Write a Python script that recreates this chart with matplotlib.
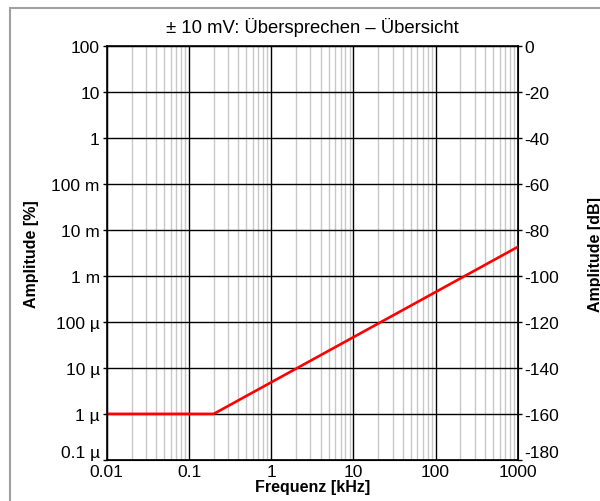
import matplotlib.pyplot as plt
from matplotlib.patches import Rectangle
import numpy as np

plt.rcParams['font.family'] = ['Liberation Sans', 'DejaVu Sans']

# crosstalk curve (frequency in kHz, amplitude in %)
freq_khz = [0.01, 0.2, 1000]
amp_pct = [1e-6, 1e-6, 4.3e-3]

x_ticks = [0.01, 0.1, 1, 10, 100, 1000]
x_labels = ['0.01', '0.1', '1', '10', '100', '1000']
y_ticks = [1e2, 1e1, 1, 1e-1, 1e-2, 1e-3, 1e-4, 1e-5, 1e-6, 1e-7]
y_labels = ['100', '10', '1', '100 m', '10 m', '1 m', '100 µ', '10 µ', '1 µ', '0.1 µ']
db_ticks = [0, -20, -40, -60, -80, -100, -120, -140, -160, -180]
db_labels = ['0', '-20', '-40', '-60', '-80', '-100', '-120', '-140', '-160', '-180']

fig = plt.figure(figsize=(6, 5.02), dpi=100)
ax = fig.add_axes([0.178, 0.082, 0.685, 0.824])

# light minor grid, black decade grid
for dec in x_ticks[:-1]:
    for m in range(2, 10):
        ax.axvline(dec * m, color='#c8c8c8', lw=1, zorder=1)
for xt in x_ticks:
    ax.axvline(xt, color='black', lw=1, zorder=2)
for yt in y_ticks:
    ax.axhline(yt, color='black', lw=1, zorder=2)

ax.plot(freq_khz, amp_pct, color='#ff0000', lw=1.9, zorder=3)

ax.set_xscale('log')
ax.set_yscale('log')
ax.set_xlim(0.01, 1000)
ax.set_ylim(1e-7, 1e2)
ax.set_xticks(x_ticks)
ax.set_xticklabels(x_labels)
ax.set_yticks(y_ticks)
ax.set_yticklabels(y_labels)
ax.minorticks_off()
ax.tick_params(axis='x', length=0, pad=3, labelsize=12.5)
ax.tick_params(axis='y', length=3, width=1, pad=2, labelsize=12.5)
for s in ax.spines.values():
    s.set_linewidth(1.2)

ax.set_xlabel('Frequenz [kHz]', fontsize=11.5, fontweight='bold', labelpad=0)
ax.set_ylabel('Amplitude [%]', fontsize=11.5, fontweight='bold')
ax.yaxis.set_label_coords(-0.166, 0.5)
ax.set_title('± 10 mV: Übersprechen – Übersicht', fontsize=13.3, pad=10)

ax2 = ax.twinx()
ax2.set_ylim(-180, 0)
ax2.set_yticks(db_ticks)
ax2.set_yticklabels(db_labels)
ax2.tick_params(axis='y', length=3, width=1, pad=2, labelsize=12.5)
fig.text(0.993, 0.493, 'Amplitude [dB]', rotation=90, ha='center', va='center',
         fontsize=11.5, fontweight='bold')

# lift the lowest labels clear of the frequency labels
ax.get_yticklabels()[-1].set_va('bottom')
ax2.get_yticklabels()[-1].set_va('bottom')

# outer frame
fig.patches.append(Rectangle((9.5 / 600, -0.1), 1.2, 1.1 - 8.5 / 502,
                             transform=fig.transFigure, fill=False,
                             edgecolor='#a0a0a0', lw=1.5))

plt.savefig('out.png', dpi=100)
